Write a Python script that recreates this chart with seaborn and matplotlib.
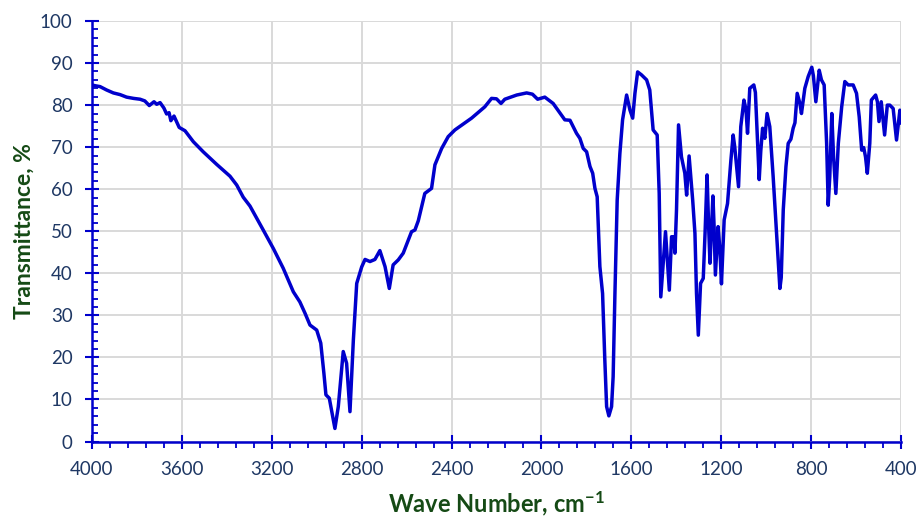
import matplotlib
matplotlib.use("Agg")
import matplotlib.pyplot as plt
from matplotlib.ticker import MultipleLocator
import seaborn as sns
import pandas as pd

wavenumber = [
    4000, 3985, 3964, 3935, 3905, 3875, 3846, 3815, 3786, 3765, 3745, 3724, 3712, 3697, 3680,
    3668, 3657, 3649, 3635, 3612, 3586, 3549, 3505, 3445, 3386, 3356, 3327, 3297, 3238, 3193,
    3149, 3104, 3075, 3052, 3030, 3000, 2982, 2968, 2959, 2944, 2919, 2904, 2882, 2867, 2852,
    2837, 2822, 2800, 2785, 2763, 2741, 2719, 2696, 2677, 2660, 2637, 2615, 2578, 2563, 2548,
    2519, 2489, 2474, 2444, 2415, 2385, 2311, 2252, 2222, 2200, 2180, 2163, 2110, 2066, 2040,
    2017, 1985, 1948, 1896, 1873, 1844, 1829, 1814, 1799, 1784, 1772, 1762, 1752, 1740, 1728,
    1718, 1710, 1700, 1688, 1681, 1673, 1663, 1651, 1639, 1621, 1606, 1594, 1584, 1572, 1555,
    1532, 1518, 1503, 1485, 1476, 1469, 1448, 1440, 1431, 1421, 1411, 1406, 1399, 1390, 1377,
    1362, 1354, 1343, 1327, 1317, 1310, 1302, 1292, 1280, 1272, 1263, 1256, 1250, 1237, 1232,
    1226, 1214, 1206, 1199, 1187, 1172, 1157, 1147, 1140, 1123, 1113, 1099, 1090, 1083, 1073,
    1055, 1048, 1038, 1031, 1024, 1016, 1006, 996, 984, 969, 954, 939, 933, 924, 912,
    902, 890, 880, 872, 862, 850, 843, 828, 813, 797, 790, 779, 764, 754, 742,
    731, 724, 717, 708, 700, 690, 679, 664, 650, 635, 613, 598, 586, 575, 566,
    558, 550, 539, 532, 513, 505, 498, 488, 473, 461, 450, 435, 420, 405, 400,
]
transmittance = [
    84.8, 84.6, 84.4, 83.6, 82.9, 82.5, 81.9, 81.6, 81.4, 81.0, 79.9, 80.8, 80.2, 80.6, 79.3,
    77.9, 78.2, 76.3, 77.4, 74.7, 73.9, 71.3, 68.9, 65.9, 63.1, 61.0, 58.1, 56.0, 50.3, 45.9,
    41.2, 35.6, 33.2, 30.5, 27.7, 26.5, 23.4, 16.2, 11.1, 10.3, 3.1, 8.3, 21.4, 18.6, 7.1,
    24.1, 37.6, 41.5, 43.3, 42.8, 43.3, 45.4, 41.6, 36.4, 42.0, 43.2, 44.8, 49.9, 50.3, 52.5,
    59.0, 60.2, 65.8, 69.7, 72.5, 74.1, 76.9, 79.6, 81.6, 81.5, 80.4, 81.4, 82.4, 82.9, 82.6,
    81.4, 81.9, 80.4, 76.5, 76.4, 73.3, 72.1, 69.7, 68.9, 65.4, 63.8, 60.2, 58.2, 41.6, 35.2,
    19.4, 8.3, 6.1, 8.3, 15.4, 35.2, 57.4, 68.5, 76.5, 82.4, 78.8, 76.9, 82.8, 87.9, 87.2,
    86.0, 83.6, 74.1, 72.9, 59.0, 34.4, 49.9, 43.2, 36.0, 48.7, 48.7, 44.8, 55.1, 75.3, 67.7,
    63.8, 58.6, 67.9, 57.4, 49.5, 35.2, 25.3, 37.6, 38.8, 49.5, 63.4, 51.1, 42.4, 58.4, 51.5,
    39.6, 51.1, 45.7, 37.5, 52.7, 56.6, 66.9, 72.9, 70.1, 60.6, 74.9, 81.2, 79.0, 73.3, 84.0,
    84.8, 83.0, 70.9, 62.3, 69.1, 74.5, 72.1, 78.0, 74.9, 63.0, 49.5, 36.4, 39.0, 55.1, 65.4,
    70.9, 71.9, 74.5, 75.8, 82.8, 80.4, 78.0, 84.0, 86.8, 89.0, 87.0, 80.8, 88.3, 86.0, 84.8,
    70.9, 56.2, 63.0, 78.0, 67.5, 59.0, 70.9, 79.6, 85.6, 84.8, 84.8, 82.8, 77.2, 69.3, 69.9,
    67.7, 63.8, 70.9, 81.2, 82.4, 80.8, 76.1, 80.8, 72.9, 80.0, 80.0, 79.2, 71.7, 78.8, 75.7,
]

x_ticks = [4000, 3600, 3200, 2800, 2400, 2000, 1600, 1200, 800, 400]
y_ticks = [0, 10, 20, 30, 40, 50, 60, 70, 80, 90, 100]

df = pd.DataFrame({"wn": wavenumber, "T": transmittance})

sns.set_theme(style="white")
plt.rcParams["font.family"] = ["Lato", "DejaVu Sans"]
plt.rcParams["mathtext.fontset"] = "custom"
plt.rcParams["mathtext.rm"] = "Lato:bold"
plt.rcParams["mathtext.default"] = "rm"

BLUE = "#0000CC"
NAVY = "#1F3864"
GREEN = "#154A15"
GRID = "#D9D9D9"

fig = plt.figure(figsize=(9.18, 5.19), dpi=100)
ax = fig.add_axes([0.1002, 0.1493, 0.8813, 0.8102])

sns.lineplot(data=df, x="wn", y="T", ax=ax, color=BLUE, linewidth=2.5,
             estimator=None, sort=True, zorder=3)

ax.set_xlim(4000, 400)
ax.set_ylim(0, 100)
ax.set_xticks(x_ticks)
ax.set_yticks(y_ticks)
ax.set_xticklabels([str(v) for v in x_ticks])
ax.set_yticklabels([str(v) for v in y_ticks])
ax.xaxis.set_minor_locator(MultipleLocator(80))
ax.yaxis.set_minor_locator(MultipleLocator(2))

ax.grid(which="major", color=GRID, linewidth=1.4, zorder=0)
ax.set_axisbelow(True)

for s in ["top", "right"]:
    ax.spines[s].set_visible(False)
for s in ["left", "bottom"]:
    ax.spines[s].set_color(BLUE)
    ax.spines[s].set_linewidth(1.8)
    ax.spines[s].set_zorder(4)

ax.tick_params(axis="both", which="major", direction="inout", length=10, width=1.5,
               color=BLUE, labelsize=13.5, labelcolor=NAVY)
ax.tick_params(axis="x", which="major", pad=9)
ax.tick_params(axis="y", which="major", pad=9)
ax.tick_params(axis="x", which="minor", direction="out", length=4.5, width=1.3, color=BLUE)
ax.tick_params(axis="y", which="minor", direction="in", length=4.5, width=1.3, color=BLUE)
ax.tick_params(bottom=True, left=True, which="both")

ax.set_xlabel(r"Wave Number, cm$^{-1}$", fontsize=17, fontweight="bold", color=GREEN, labelpad=8)
ax.set_ylabel("Transmittance, %", fontsize=16.5, fontweight="bold", color=GREEN, labelpad=4)

fig.savefig("out.png", dpi=100)
